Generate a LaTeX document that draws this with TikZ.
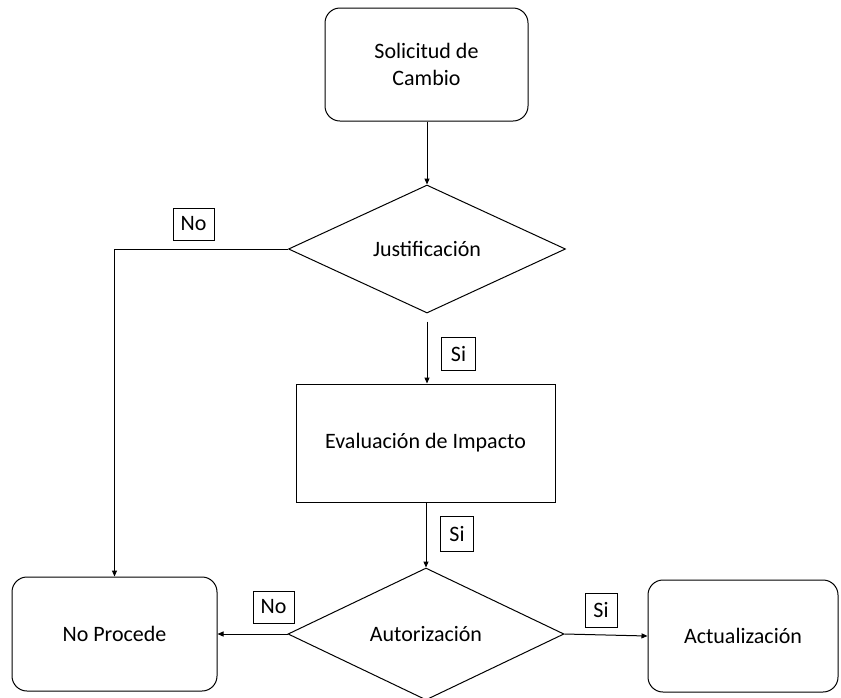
\documentclass[tikz,border=0pt]{standalone}
\usepackage{fontspec}
\setmainfont{Carlito}
\usetikzlibrary{shapes.geometric,arrows.meta}
\begin{document}
\begin{tikzpicture}[x=1pt,y=-1pt,
  every node/.style={font=\fontsize{22}{27}\selectfont, align=center, line width=1pt},
  rbox/.style={draw, rectangle, rounded corners=15pt, inner sep=0pt},
  pbox/.style={draw, rectangle, inner sep=0pt},
  dia/.style={draw, diamond, aspect=2, inner sep=0pt},
  lab/.style={draw, rectangle, inner sep=0pt},
  arr/.style={line width=1pt, -{Triangle[length=6pt,width=5pt]}}]
\useasboundingbox (0,0) rectangle (841,697);
\fill[white] (0,0) rectangle (841,697);
\node[rbox, minimum width=203pt, minimum height=113pt] (sol) at (426.5,64.5) {Solicitud de\\Cambio};
\node[dia, minimum width=277pt, minimum height=128pt] (jus) at (427,249) {Justificación};
\node[pbox, minimum width=259pt, minimum height=118pt] (eva) at (425.5,443) {Evaluación de Impacto};
\node[dia, minimum width=276pt, minimum height=132pt] (aut) at (426,634) {Autorización};
\node[rbox, minimum width=205pt, minimum height=114pt] (nop) at (114.5,634) {No Procede};
\node[rbox, minimum width=190pt, minimum height=112pt] (act) at (743,636) {Actualización};
\node[lab, minimum width=41pt, minimum height=32pt] (no1) at (193.5,224) {No};
\node[lab, minimum width=34pt, minimum height=33pt] (si1) at (458.5,354) {Si};
\node[lab, minimum width=33pt, minimum height=35pt] (si2) at (457,533.5) {Si};
\node[lab, minimum width=41pt, minimum height=32pt] (no2) at (273.5,607) {No};
\node[lab, minimum width=32pt, minimum height=34pt] (si3) at (601,610) {Si};
\draw[arr] (sol.south -| jus.north) -- (jus.north);
\draw[arr, shorten <=8pt] (jus.south) -- (jus.south |- eva.north);
\draw[arr] (eva.south -| aut.north) -- (aut.north);
\draw[arr] (jus.west) -| (nop.north);
\draw[arr] (aut.west) -- (nop.east);
\draw[arr] (aut.east) -- (act.west);
\end{tikzpicture}
\end{document}
